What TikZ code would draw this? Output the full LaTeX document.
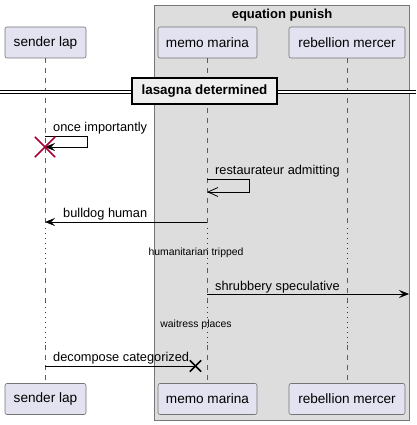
\documentclass[tikz,border=0pt]{standalone}
\usepackage{fontspec}
\setmainfont{Liberation Sans}
\usetikzlibrary{arrows.meta}
\definecolor{partfill}{HTML}{E2E2F0}
\definecolor{partline}{HTML}{181818}
\definecolor{boxfill}{HTML}{DDDDDD}
\definecolor{boxline}{HTML}{777777}
\definecolor{divfill}{HTML}{EEEEEE}
\definecolor{delayred}{HTML}{A80036}
\tikzset{
  part/.style={draw=partline!60, line width=0.6pt, fill=partfill, rounded corners=2pt,
    minimum height=31pt, inner sep=0pt, font=\fontsize{13.6}{15}\selectfont},
  lifeline/.style={draw=partline!70, line width=0.6pt, dash pattern=on 5pt off 5pt},
  delayline/.style={draw=delayred, line width=0.8pt, dash pattern=on 1pt off 4pt},
  msg/.style={draw=black, line width=0.8pt},
  msglabel/.style={font=\fontsize{12.8}{14}\selectfont, inner sep=0pt, anchor=base west},
  delaylabel/.style={font=\fontsize{10.4}{12}\selectfont, inner sep=0pt, anchor=base},
  filledtip/.style={-{Stealth[length=10pt,width=8pt,inset=4pt]}},
  opentip/.style={-{Straight Barb[length=10pt,width=9pt,line width=0.8pt]}},
}
\begin{document}
\begin{tikzpicture}[x=1pt,y=-1pt]
\useasboundingbox (0,0) rectangle (416,425);
% group box
\draw[fill=boxfill, draw=boxline, line width=0.8pt] (154,5) rectangle (409,420);
\node[font=\bfseries\fontsize{13}{15}\selectfont, inner sep=0pt] (grptitle) at (282,15) {equation punish};
% participants
\node[part, minimum width=81pt] (sT) at (45.5,42.5) {sender lap};
\node[part, minimum width=99pt] (mT) at (207.5,42.5) {memo marina};
\node[part, minimum width=116pt] (rT) at (347,42.5) {rebellion mercer};
\node[part, minimum width=81pt] (sB) at (45.5,399) {sender lap};
\node[part, minimum width=99pt] (mB) at (207.5,399) {memo marina};
\node[part, minimum width=116pt] (rB) at (347,399) {rebellion mercer};
% lifeline coordinates
\foreach \n/\x in {s/45, m/207, r/347}{
  \coordinate (\n a) at (\x,58);
  \coordinate (\n d1) at (\x,228);
  \coordinate (\n e1) at (\x,268);
  \coordinate (\n d2) at (\x,302);
  \coordinate (\n e2) at (\x,345);
  \coordinate (\n z) at (\x,383);
  \draw[lifeline] (\n a) -- (\n d1);
  \draw[delayline] (\n d1) -- (\n e1);
  \draw[lifeline] (\n e1) -- (\n d2);
  \draw[delayline] (\n d2) -- (\n e2);
  \draw[lifeline] (\n e2) -- (\n z);
}
% divider
\coordinate (divL) at (0,92);
\coordinate (divR) at (416,92);
\draw[line width=0.8pt, double=white, double distance=2.4pt] (divL) -- (divR);
\node[draw=black, line width=1.6pt, fill=divfill, minimum width=145pt, minimum height=26pt,
  inner sep=0pt, font=\bfseries\fontsize{13.4}{15}\selectfont] (div) at (204.5,91) {lasagna determined};
% self message once importantly
\coordinate (m1a) at (45,136);
\coordinate (m1b) at (87.5,136);
\coordinate (m1c) at (87.5,147);
\coordinate (m1d) at (45,147);
\draw[msg, filledtip] (m1a) -- (m1b) -- (m1c) -- (m1d);
\node[msglabel] (l1) at (53,131) {once importantly};
\node[inner sep=0pt, minimum size=20pt] (x1) at (m1d) {};
\draw[draw=delayred, line width=1.5pt] (x1.north west) -- (x1.south east);
\draw[draw=delayred, line width=1.5pt] (x1.north east) -- (x1.south west);
% self message restaurateur admitting
\coordinate (m2a) at (207,179.5);
\coordinate (m2b) at (249.5,179.5);
\coordinate (m2c) at (249.5,192);
\coordinate (m2d) at (207,192);
\draw[msg, opentip] (m2a) -- (m2b) -- (m2c) -- (m2d);
\node[msglabel] (l2) at (215,174.5) {restaurateur admitting};
% bulldog human
\coordinate (m3a) at (207,222);
\coordinate (m3b) at (45,222);
\draw[msg, filledtip] (m3a) -- (m3b);
\node[msglabel] (l3) at (63,217.5) {bulldog human};
% delay 1
\node[delaylabel] (dl1) at (196,255.5) {humanitarian tripped};
% shrubbery speculative
\coordinate (m4a) at (207,294);
\coordinate (m4b) at (409,294);
\draw[msg, filledtip] (m4a) -- (m4b);
\node[msglabel] (l4) at (215,290) {shrubbery speculative};
% delay 2
\node[delaylabel] (dl2) at (196,327.5) {waitress places};
% decompose categorized
\coordinate (m5a) at (45,366);
\coordinate (m5b) at (195.5,366);
\draw[msg] (m5a) -- (m5b);
\node[msglabel] (l5) at (53,361.5) {decompose categorized};
\node[inner sep=0pt, minimum size=11pt] (x2) at (m5b) {};
\draw[line width=1.5pt] (x2.north west) -- (x2.south east);
\draw[line width=1.5pt] (x2.north east) -- (x2.south west);
\end{tikzpicture}
\end{document}
